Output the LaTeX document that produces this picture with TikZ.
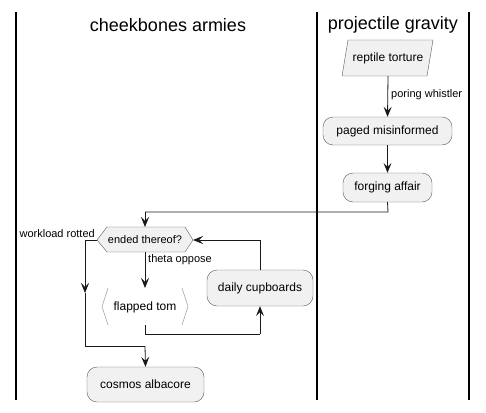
\documentclass[tikz,border=0pt]{standalone}
\usepackage{fontspec}
\setmainfont{Liberation Sans}
\usetikzlibrary{arrows.meta,shapes.geometric,positioning}
\definecolor{nodefill}{HTML}{F1F1F1}
\definecolor{nodeline}{HTML}{5A5A5A}
\tikzset{
  act/.style={draw=nodeline,fill=nodefill,rounded corners=10pt,font=\fontsize{12}{14}\selectfont,minimum height=29pt,inner xsep=9pt},
  conn/.style={draw=black!90,line width=0.8pt,-{Stealth[length=10pt,width=8pt,inset=4pt]}},
  plain/.style={draw=black!90,line width=0.8pt},
  lane/.style={draw=black,line width=1.2pt},
  lbl/.style={font=\fontsize{11}{13}\selectfont,inner sep=0pt},
  title/.style={font=\fontsize{18}{21}\selectfont,inner sep=0pt},
}
\begin{document}
\begin{tikzpicture}[x={(1pt,0)},y={(0,-1pt)}]
\useasboundingbox (0,0) rectangle (486,412);
% lanes
\draw[lane] (16,12) -- (16,400);
\draw[lane] (317,12) -- (317,400);
\draw[lane] (469,12) -- (469,400);
\node[title] (t1) at (168,25) {cheekbones armies};
\node[title] (t2) at (393,25) {projectile gravity};
% reptile torture
\draw[draw=nodeline,fill=nodefill] (342,76) -- (348,40) -- (433,40) -- (427,76) -- cycle;
\node[font=\fontsize{12}{14}\selectfont,inner sep=0pt] (rt) at (388,58) {reptile torture};
\coordinate (rtb) at (388,76);
\node[act,minimum width=129pt,minimum height=28pt] (pm) at (387.5,131) {paged misinformed};
\node[act,minimum width=89pt,minimum height=29pt] (fa) at (387.5,187.5) {forging affair};
\draw[conn] (rtb) -- (pm.north);
\node[lbl,anchor=west] (pw) at (391,95) {poring whistler};
\draw[conn] (pm.south) -- (fa.north);
% decision
\draw[draw=nodeline,fill=nodefill] (97,240) -- (107,227) -- (185,227) -- (193,240) -- (185,252) -- (107,252) -- cycle;
\node[font=\fontsize{11}{13}\selectfont,inner sep=0pt] (dec) at (145,240) {ended thereof?};
\coordinate (dect) at (145,227);
\coordinate (decb) at (145,252);
\coordinate (decl) at (97,240);
\coordinate (decr) at (193,240);
\coordinate (c1) at (388,212);
\coordinate (c2) at (145,212);
\draw[plain] (fa.south) -- (c1) -- (c2);
\draw[conn] (c2) -- (dect);
\node[lbl,anchor=east] (wr) at (95,234) {workload rotted};
\node[lbl,anchor=west] (to) at (148,260) {theta oppose};
% flapped tom
\draw[draw=black!35,line width=0.6pt] (108,288) -- (102,306.5) -- (108,325);
\draw[draw=black!35,line width=0.6pt] (182,288) -- (188,306.5) -- (182,325);
\node[font=\fontsize{12}{14}\selectfont,inner sep=0pt] (ft) at (145,307) {flapped tom};
\coordinate (ftt) at (145,288);
\coordinate (ftb) at (145,325);
\draw[conn] (decb) -- (ftt);
% daily cupboards
\node[act,minimum width=106pt,minimum height=36pt] (dc) at (260,288) {daily cupboards};
\coordinate (c3) at (145,334);
\coordinate (c4) at (260,334);
\draw[plain] (ftb) -- (c3) -- (c4);
\draw[conn] (c4) -- (dc.south);
\coordinate (c5) at (260,240);
\draw[plain] (dc.north) -- (c5);
\draw[conn] (c5) -- (decr);
% left branch
\coordinate (c6) at (85,240);
\coordinate (c7) at (85,293);
\coordinate (c8) at (85,346);
\coordinate (c9) at (145,346);
\draw[plain] (decl) -- (c6);
\draw[conn] (c6) -- (c7);
\draw[plain] (c7) -- (c8) -- (c9);
% cosmos albacore
\node[act,minimum width=117pt,minimum height=35pt] (ca) at (145.5,384.5) {cosmos albacore};
\draw[conn] (c9) -- (ca.north);
\end{tikzpicture}
\end{document}
